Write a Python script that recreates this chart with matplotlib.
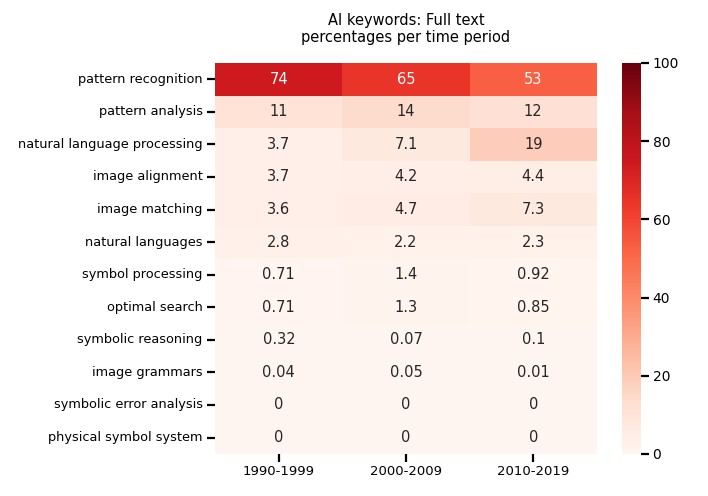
import numpy as np
import pandas as pd
import matplotlib
matplotlib.use("Agg")
import matplotlib.pyplot as plt
import seaborn as sns

keywords = ["pattern recognition", "pattern analysis", "natural language processing",
            "image alignment", "image matching", "natural languages", "symbol processing",
            "optimal search", "symbolic reasoning", "image grammars",
            "symbolic error analysis", "physical symbol system"]
periods = ["1990-1999", "2000-2009", "2010-2019"]
pct_1990 = [74, 11, 3.7, 3.7, 3.6, 2.8, 0.71, 0.71, 0.32, 0.04, 0, 0]
pct_2000 = [65, 14, 7.1, 4.2, 4.7, 2.2, 1.4, 1.3, 0.07, 0.05, 0, 0]
pct_2010 = [53, 12, 19, 4.4, 7.3, 2.3, 0.92, 0.85, 0.1, 0.01, 0, 0]

df = pd.DataFrame({periods[0]: pct_1990, periods[1]: pct_2000, periods[2]: pct_2010},
                  index=keywords)

fig = plt.figure(figsize=(7.08, 4.96), dpi=100)
ax = fig.add_axes([0.304, 0.085, 0.539, 0.788])
cax = fig.add_axes([0.879, 0.085, 0.027, 0.788])

sns.heatmap(df, ax=ax, cbar_ax=cax, cmap="Reds", vmin=0, vmax=100,
            annot=True, fmt="g", annot_kws={"fontsize": 10.5})

ax.set_title("AI keywords: Full text\npercentages per time period", fontsize=10.5, pad=15)
ax.tick_params(axis="both", length=6, width=1.6, labelsize=9.5, pad=2)
ax.tick_params(axis="y", rotation=0, labelsize=9.3, pad=3)
cax.tick_params(length=6, width=1.6, labelsize=10, pad=2)
for s in cax.spines.values():
    s.set_visible(False)

fig.savefig("out.png", dpi=100)
